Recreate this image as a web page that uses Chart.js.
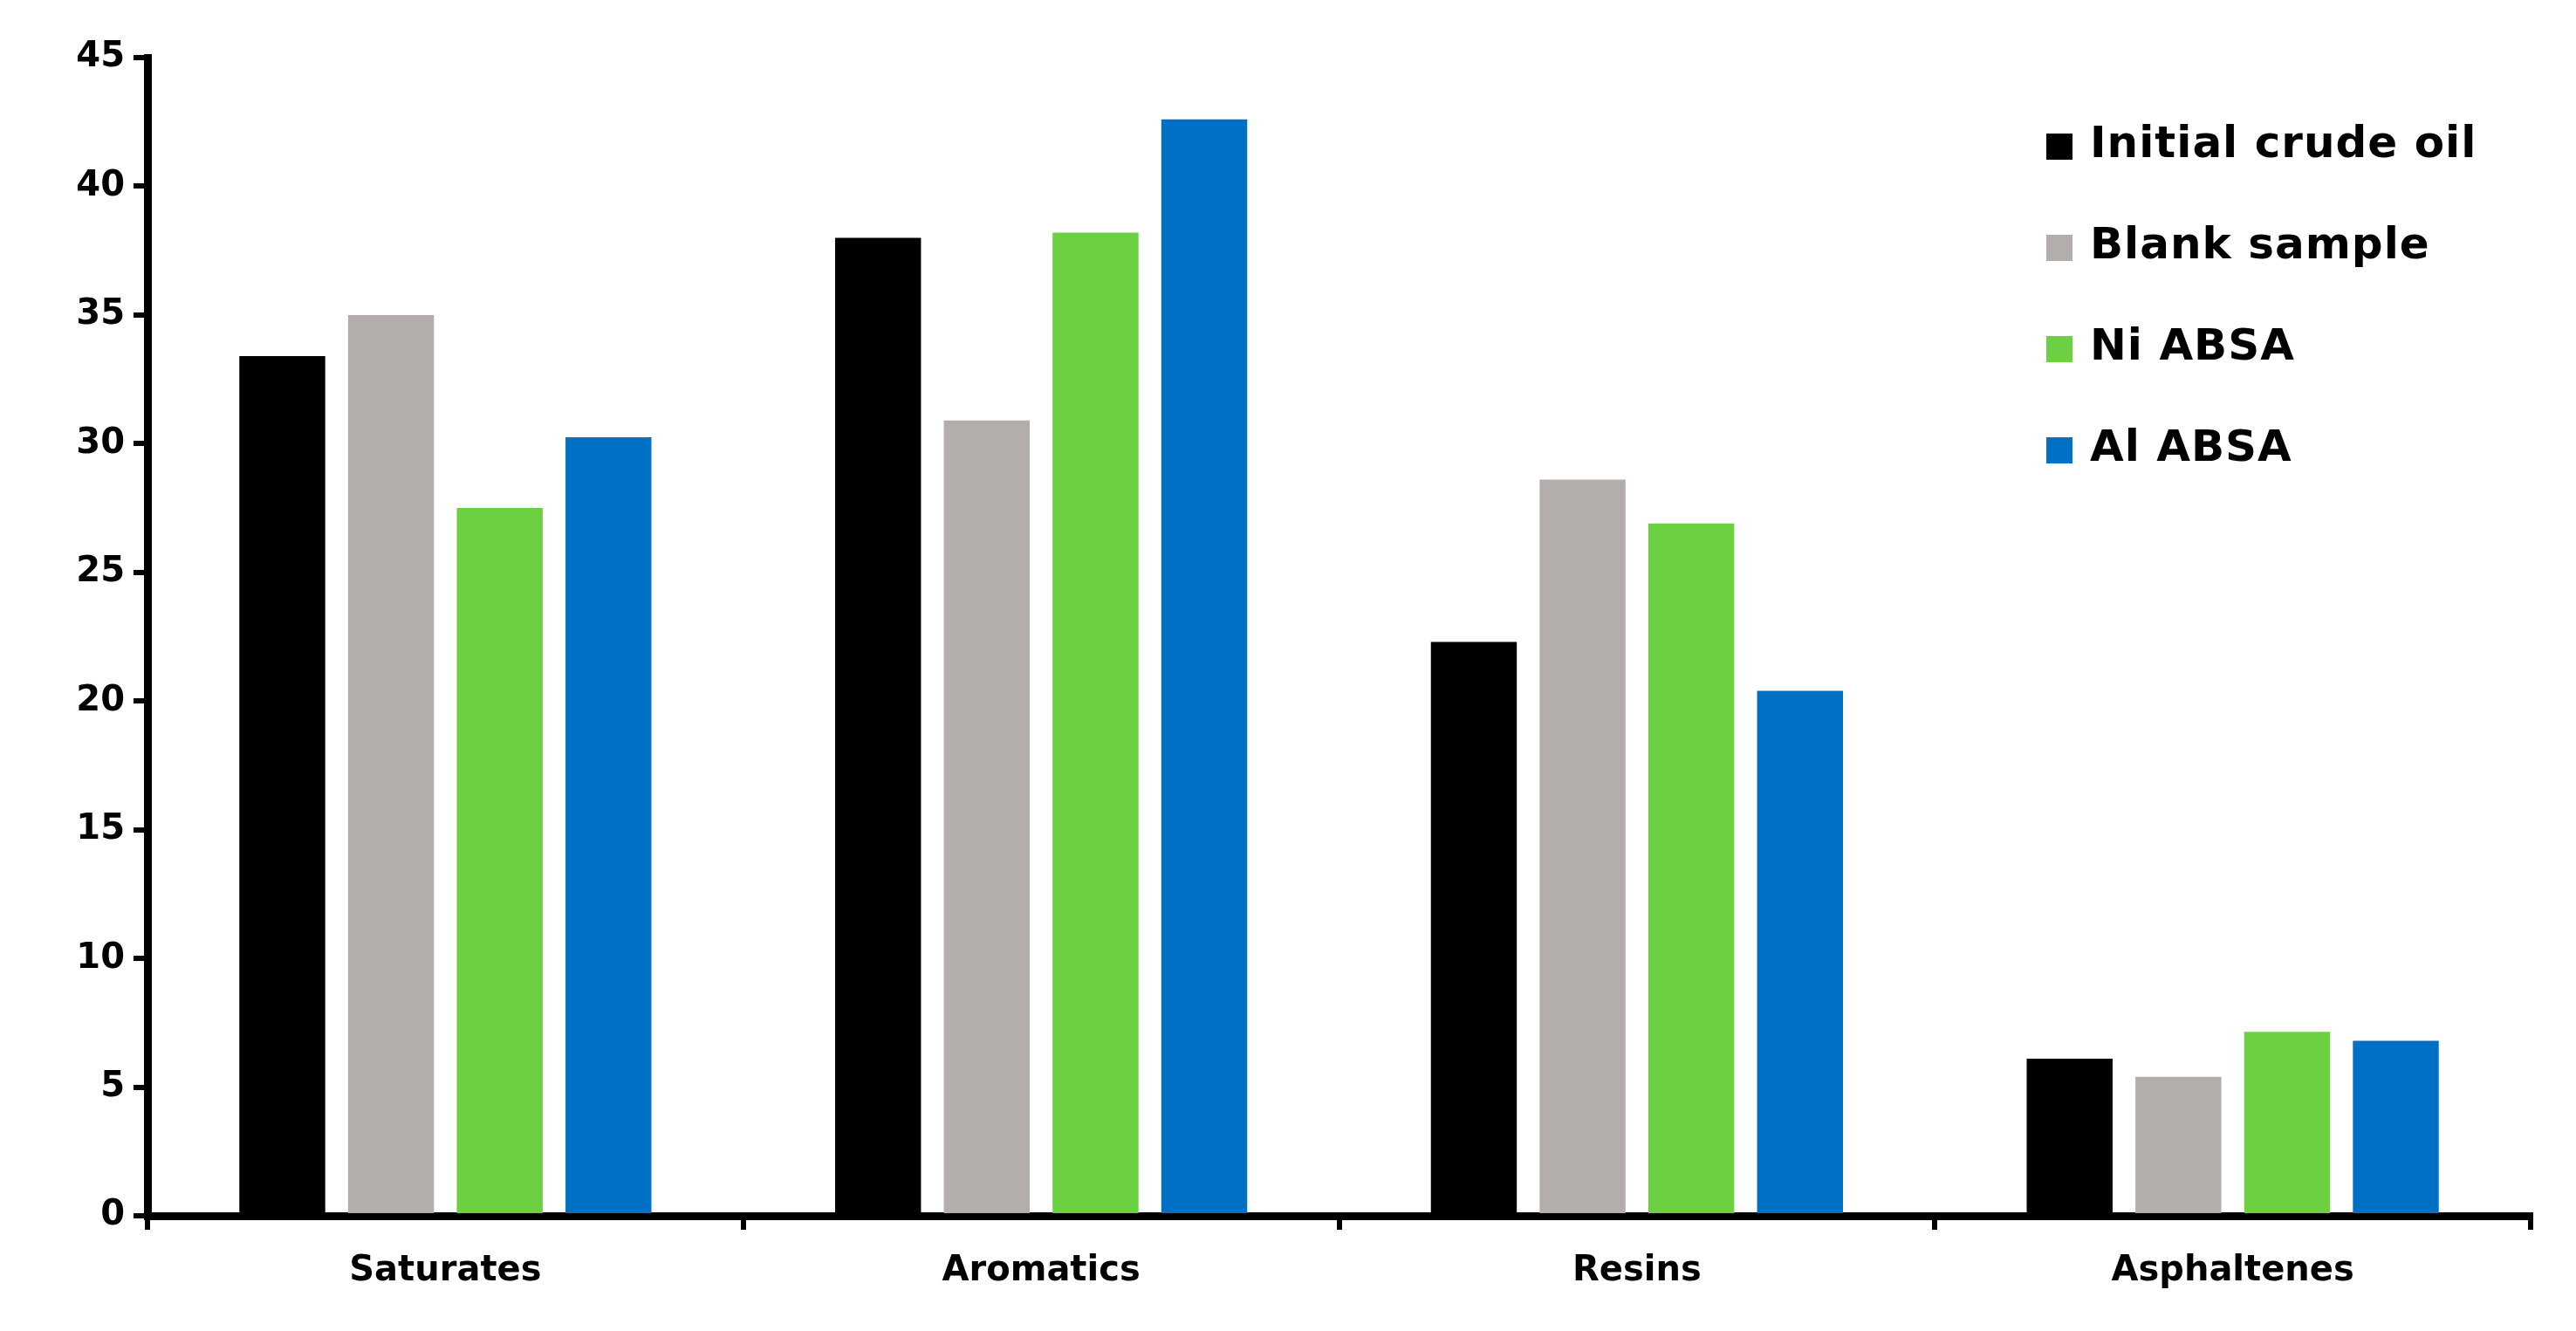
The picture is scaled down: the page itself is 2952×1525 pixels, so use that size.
<!DOCTYPE html>
<html>
<head>
<meta charset="utf-8">
<script src="https://cdn.jsdelivr.net/npm/chart.js@4/dist/chart.umd.min.js"></script>
<style>
  body { margin: 0; background: #fff; }
  #wrap { position: relative; width: 2952px; height: 1525px; }
  #legend { position: absolute; left: 2345px; top: 105px; font: bold 50px "DejaVu Sans", sans-serif; letter-spacing: 1px; }
  #legend div { height: 116px; display: flex; align-items: center; }
  #legend span { display: inline-block; width: 30px; height: 30px; margin-right: 20px; margin-top: 10px; }
</style>
</head>
<body>
<div id="wrap">
  <canvas id="chart" width="2952" height="1525"></canvas>
  <div id="legend"></div>
</div>
<script>
// ===== data
const categories = ["Saturates", "Aromatics", "Resins", "Asphaltenes"];
const seriesNames = ["Initial crude oil", "Blank sample", "Ni ABSA", "Al ABSA"];
const initialCrude = [33.4, 38.0, 22.3, 6.1];
const blankSample = [35.0, 30.9, 28.6, 5.4];
const niAbsa = [27.5, 38.2, 26.9, 7.15];
const alAbsa = [30.25, 42.6, 20.4, 6.8];
const yTicks = [0, 5, 10, 15, 20, 25, 30, 35, 40, 45];

const colors = ["#000000", "#b3aeab", "#6bd140", "#0070c4"];
const values = [initialCrude, blankSample, niAbsa, alAbsa];
const font = { family: "'DejaVu Sans', sans-serif", weight: "bold", size: 40 };

new Chart(document.getElementById("chart"), {
    type: "bar",
    data: {
        labels: categories,
        datasets: seriesNames.map((name, i) => ({
            label: name,
            data: values[i],
            backgroundColor: colors[i],
            categoryPercentage: 0.73,
            barPercentage: 0.79,
        })),
    },
    options: {
        responsive: false,
        animation: false,
        layout: { padding: { top: 66, right: 52, left: 0, bottom: 0 } },
        plugins: { legend: { display: false }, tooltip: { enabled: false } },
        scales: {
            x: {
                grid: { offset: true, drawOnChartArea: false, color: "#000", lineWidth: 6, tickLength: 16 },
                border: { color: "#000", width: 9 },
                ticks: { color: "#000", font, padding: 24 },
                afterFit: (s) => { s.height = 132; },
            },
            y: {
                min: 0,
                max: 45,
                afterBuildTicks: (s) => { s.ticks = yTicks.map((v) => ({ value: v })); },
                grid: { drawOnChartArea: false, color: "#000", lineWidth: 6, tickLength: 16 },
                border: { color: "#000", width: 9 },
                ticks: { color: "#000", font, padding: 10 },
                afterFit: (s) => { s.width = 169; },
            },
        },
    },
});

// ===== legend
const legend = document.getElementById("legend");
seriesNames.forEach((name, i) => {
    const row = document.createElement("div");
    row.innerHTML = `<span style="background:${colors[i]}"></span>${name}`;
    legend.appendChild(row);
});
</script>
</body>
</html>
